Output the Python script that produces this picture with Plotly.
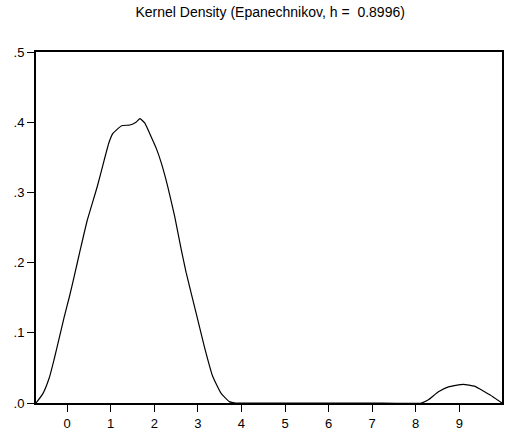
import plotly.graph_objects as go

# Kernel density estimate values
x_vals = [-0.715, -0.56, -0.41, -0.30, -0.18, -0.07, 0.05, 0.16, 0.30, 0.46,
          0.69, 0.85, 0.96, 1.05, 1.25, 1.44, 1.58, 1.67, 1.78, 1.93,
          2.05, 2.16, 2.31, 2.47, 2.62, 2.73, 2.96, 3.15, 3.34, 3.53,
          3.72, 3.87, 5.0, 6.0, 7.0, 8.13, 8.30, 8.52, 8.75, 9.09,
          9.35, 9.58, 9.77, 9.98]
density = [0.0, 0.013, 0.036, 0.062, 0.093, 0.122, 0.151, 0.180, 0.218, 0.260,
           0.308, 0.346, 0.371, 0.384, 0.395, 0.396, 0.400, 0.405, 0.399, 0.379,
           0.362, 0.342, 0.308, 0.265, 0.218, 0.186, 0.128, 0.080, 0.038, 0.014,
           0.002, 0.0, 0.0, 0.0, 0.0, 0.0, 0.005, 0.016, 0.023, 0.0266,
           0.024, 0.016, 0.009, 0.0]

x_ticks = [0, 1, 2, 3, 4, 5, 6, 7, 8, 9]
x_ticktext = ["0", "1", "2", "3", "4", "5", "6", "7", "8", "9"]
y_ticks = [0.0, 0.1, 0.2, 0.3, 0.4, 0.5]
y_ticktext = [".0", ".1", ".2", ".3", ".4", ".5"]

title_text = "Kernel Density (Epanechnikov, h =  0.8996)"

font_family = "Liberation Sans, Arial, sans-serif"

fig = go.Figure()
fig.add_trace(go.Scatter(
    x=x_vals, y=density, mode="lines",
    line=dict(color="black", width=1.2, shape="spline", smoothing=0.4),
    hoverinfo="skip", showlegend=False,
))

fig.update_layout(
    width=505, height=436,
    margin=dict(l=36, r=1, t=52, b=33),
    paper_bgcolor="white", plot_bgcolor="white",
    font=dict(family=font_family, size=13, color="black"),
    title=dict(text=title_text, x=0.535, xanchor="center", y=0.972, yanchor="middle",
               font=dict(family=font_family, size=14, color="black")),
    xaxis=dict(range=[-0.715, 9.98], tickmode="array", tickvals=x_ticks,
               ticktext=x_ticktext, ticks="outside", ticklen=7, tickwidth=1.2,
               tickcolor="black", showline=True, linecolor="black", linewidth=2,
               mirror=True, showgrid=False, zeroline=False,
               tickfont=dict(size=13)),
    yaxis=dict(range=[0, 0.5], tickmode="array", tickvals=y_ticks,
               ticktext=y_ticktext, ticks="outside", ticklen=7, tickwidth=1.2,
               tickcolor="black", showline=True, linecolor="black", linewidth=2,
               mirror=True, showgrid=False, zeroline=False,
               tickfont=dict(size=13)),
)

fig.write_html("out.html")
